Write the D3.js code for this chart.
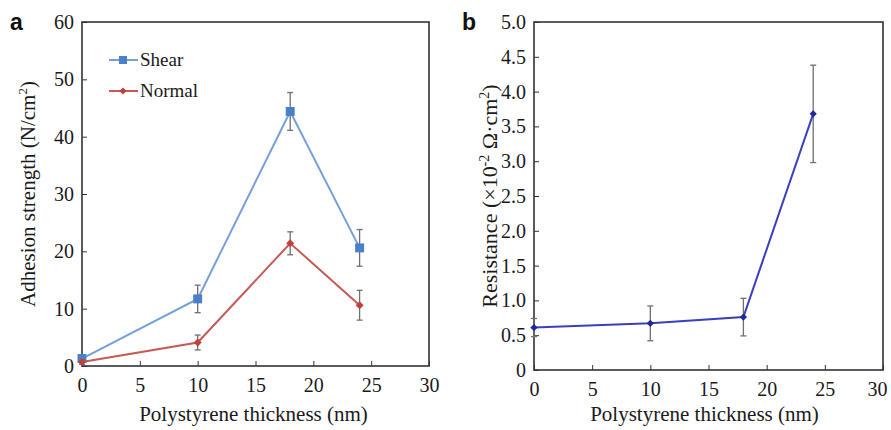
<html>
<head>
<script src="https://d3js.org/d3.v7.min.js"></script>
<style>
  body { margin: 0; background: #fff; }
  text { font-family: "Liberation Serif", "Times New Roman", serif; fill: #1a1a1a; }
  .tick text { font-size: 20px; font-family: "Liberation Serif", "Times New Roman", serif; }
  .plab { font-family: "Liberation Sans", Arial, sans-serif; font-weight: bold; fill: #111; }
</style>
</head>
<body>
<svg id="chart" width="891" height="430"></svg>
<script>
// panel a data
var thickness = [0, 10, 18, 24];
var shear = [1.3, 11.7, 44.4, 20.6];
var shearErr = [0.6, 2.4, 3.3, 3.2];
var normal = [0.7, 4.1, 21.4, 10.6];
var normalErr = [0.4, 1.3, 2.0, 2.6];
// panel b data
var resistance = [0.61, 0.67, 0.76, 3.68];
var resistanceErr = [0.13, 0.25, 0.27, 0.70];

var xTicks = [0, 5, 10, 15, 20, 25, 30];
var yTicksA = [0, 10, 20, 30, 40, 50, 60];
var yTicksB = [0, 0.5, 1, 1.5, 2, 2.5, 3, 3.5, 4, 4.5, 5];

var svg = d3.select("#chart");

function cleanAxis(a) {
  a.attr("font-family", null).attr("font-size", null);
  a.select(".domain").remove();
  a.selectAll("line").attr("stroke", "#333");
  a.selectAll("text").attr("fill", null);
}

function panel(opt) {
  var x = d3.scaleLinear().domain([0, 30]).range([opt.left, opt.right]);
  var y = d3.scaleLinear().domain(opt.ydomain).range([opt.bottom, opt.top]);
  var g = svg.append("g");

  var xa = g.append("g").attr("transform", "translate(0," + opt.bottom + ")")
    .call(d3.axisBottom(x).tickValues(xTicks).tickSizeInner(-5).tickSizeOuter(0).tickPadding(12))
    .call(cleanAxis);
  if (opt.lastShift) xa.selectAll(".tick:last-child text").attr("dx", opt.lastShift);

  g.append("g").attr("transform", "translate(" + opt.left + ",0)")
    .call(d3.axisLeft(y).tickValues(opt.yticks).tickFormat(opt.yfmt).tickSizeInner(-5).tickSizeOuter(0).tickPadding(8))
    .call(cleanAxis);

  g.append("rect")
    .attr("x", opt.left).attr("y", opt.top)
    .attr("width", opt.right - opt.left).attr("height", opt.bottom - opt.top)
    .attr("fill", "none").attr("stroke", "#333").attr("stroke-width", 1.6);

  g.append("text").attr("class", "plab")
    .attr("x", opt.labX).attr("y", opt.top + 8)
    .style("font-size", "23px").text(opt.label);

  g.append("text")
    .attr("x", (opt.left + opt.right) / 2 - opt.titleShift).attr("y", 421)
    .attr("text-anchor", "middle").style("font-size", "21px")
    .text("Polystyrene thickness (nm)");

  g.append("text")
    .attr("transform", "translate(" + opt.ylabX + "," + ((opt.top + opt.bottom) / 2) + ") rotate(-90)")
    .attr("text-anchor", "middle").style("font-size", opt.ylabSize)
    .html(opt.ylabel);

  return { x: x, y: y, g: g };
}

function series(p, vals, errs, color, markerColor, shape, size) {
  p.g.append("g").selectAll("g").data(vals).enter().append("g")
    .each(function(d, i) {
      var cx = p.x(thickness[i]);
      var t = p.y(d + errs[i]), b = p.y(d - errs[i]);
      var s = d3.select(this);
      s.append("line").attr("x1", cx).attr("x2", cx).attr("y1", t).attr("y2", b)
        .attr("stroke", "#707070").attr("stroke-width", 1.3);
      [t, b].forEach(function(yy) {
        s.append("line").attr("x1", cx - 3).attr("x2", cx + 3).attr("y1", yy).attr("y2", yy)
          .attr("stroke", "#707070").attr("stroke-width", 1.3);
      });
    });
  var line = d3.line().x(function(d, i) { return p.x(thickness[i]); }).y(function(d) { return p.y(d); });
  p.g.append("path").datum(vals).attr("d", line)
    .attr("fill", "none").attr("stroke", color).attr("stroke-width", 2);
  p.g.append("g").selectAll("path").data(vals).enter().append("path")
    .attr("transform", function(d, i) { return "translate(" + p.x(thickness[i]) + "," + p.y(d) + ")" + (shape === "diamond" ? " rotate(45)" : ""); })
    .attr("d", d3.symbol().type(d3.symbolSquare).size(size))
    .attr("fill", markerColor);
}

var pa = panel({
  left: 82, right: 429, top: 22, bottom: 366, ydomain: [0, 60], yticks: yTicksA,
  yfmt: d3.format("d"), label: "a", labX: 10, ylabX: 35, ylabSize: "21px", titleShift: 2,
  ylabel: 'Adhesion strength (N/cm<tspan dy="-8" font-size="13px">2</tspan><tspan dy="8">)</tspan>'
});
series(pa, shear, shearErr, "#75a0d8", "#4a80c8", "square", 80);
series(pa, normal, normalErr, "#c55a56", "#c0403c", "diamond", 32);

// legend
var legend = [
  { name: "Shear", line: "#75a0d8", mark: "#4a80c8", shape: "square", size: 64, y: 60 },
  { name: "Normal", line: "#c55a56", mark: "#c0403c", shape: "diamond", size: 26, y: 91 }
];
legend.forEach(function(l) {
  pa.g.append("line").attr("x1", 109).attr("x2", 138).attr("y1", l.y).attr("y2", l.y)
    .attr("stroke", l.line).attr("stroke-width", 2);
  pa.g.append("path")
    .attr("transform", "translate(123," + l.y + ")" + (l.shape === "diamond" ? " rotate(45)" : ""))
    .attr("d", d3.symbol().type(d3.symbolSquare).size(l.size)).attr("fill", l.mark);
  pa.g.append("text").attr("x", 140).attr("y", l.y + 6).style("font-size", "19px").text(l.name);
});

var pb = panel({
  left: 534, right: 883, top: 22, bottom: 370, ydomain: [0, 5], yticks: yTicksB,
  yfmt: function(d) { return d === 0 ? "0" : d3.format(".1f")(d); }, label: "b", labX: 462, ylabX: 497,
  ylabSize: "22px", titleShift: 4, lastShift: -6,
  ylabel: 'Resistance (×10<tspan dy="-8" font-size="14px">-2</tspan><tspan dy="8"> Ω·cm</tspan><tspan dy="-8" font-size="14px">2</tspan><tspan dy="8">)</tspan>'
});
series(pb, resistance, resistanceErr, "#3a3fc0", "#1f2a9a", "diamond", 26);
</script>
</body>
</html>
